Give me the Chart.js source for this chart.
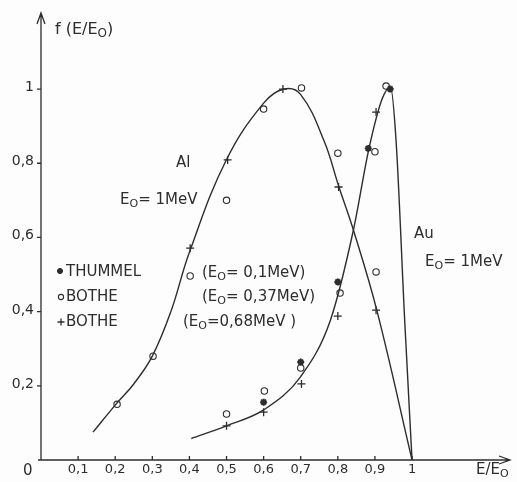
<!DOCTYPE html>
<html>
<head>
<meta charset="utf-8">
<script src="https://cdn.jsdelivr.net/npm/chart.js"></script>
<style>
  html, body { margin: 0; padding: 0; background: #fdfdfd; }
  canvas { display: block; }
</style>
</head>
<body>
<canvas id="spectrum" width="517" height="482"></canvas>
<script>
// fitted curves
const alCurveX = [0.14, 0.2, 0.25, 0.3, 0.35, 0.4, 0.5, 0.6, 0.655, 0.7, 0.763, 0.803, 0.842, 0.905, 1.0];
const alCurveY = [0.075, 0.148, 0.205, 0.28, 0.40, 0.56, 0.81, 0.962, 1.0, 0.985, 0.86, 0.736, 0.62, 0.404, 0];
const auCurveX = [0.405, 0.5, 0.6, 0.7, 0.78, 0.842, 0.884, 0.92, 0.942, 0.957, 0.98, 1.0];
const auCurveY = [0.058, 0.092, 0.135, 0.225, 0.377, 0.62, 0.84, 0.975, 1.005, 0.86, 0.38, 0];

// measured points
const thummelX = [0.6, 0.7, 0.8, 0.882, 0.941];
const thummelY = [0.156, 0.264, 0.48, 0.84, 1.0];
const botheCircleX = [0.205, 0.302, 0.402, 0.5, 0.6, 0.702, 0.8, 0.903, 0.5, 0.602, 0.7, 0.806, 0.9, 0.93];
const botheCircleY = [0.15, 0.28, 0.496, 0.70, 0.946, 1.003, 0.827, 0.507, 0.124, 0.186, 0.248, 0.45, 0.831, 1.008];
const botheCrossX = [0.402, 0.503, 0.652, 0.802, 0.903, 0.5, 0.6, 0.702, 0.8, 0.903];
const botheCrossY = [0.571, 0.809, 1.0, 0.736, 0.404, 0.092, 0.129, 0.205, 0.388, 0.938];

// axes
const xTicks = [0.1, 0.2, 0.3, 0.4, 0.5, 0.6, 0.7, 0.8, 0.9, 1];
const xTickLabels = ['0,1', '0,2', '0,3', '0,4', '0,5', '0,6', '0,7', '0,8', '0,9', '1'];
const yTicks = [0.2, 0.4, 0.6, 0.8, 1];
const yTickLabels = ['0,2', '0,4', '0,6', '0,8', '1'];

const INK = '#2d2d2d';
const FONT = '"DejaVu Sans", sans-serif';

const toPoints = (xs, ys) => xs.map((v, i) => ({ x: v, y: ys[i] }));

// text with subscripts: parts starting with '_' are lowered and smaller
function rich(ctx, x, y, parts, size) {
  let cx = x;
  parts.forEach(p => {
    const sub = p.startsWith('_');
    const t = sub ? p.slice(1) : p;
    ctx.font = (sub ? Math.round(size * 0.72) : size) + 'px ' + FONT;
    ctx.fillText(t, cx, sub ? y + 3 : y);
    cx += ctx.measureText(t).width;
  });
}

function marker(ctx, style, x, y, r) {
  ctx.beginPath();
  if (style === 'circle') {
    ctx.arc(x, y, r, 0, Math.PI * 2);
  } else {
    ctx.moveTo(x - r, y); ctx.lineTo(x + r, y);
    ctx.moveTo(x, y - r); ctx.lineTo(x, y + r);
    if (style === 'star') {
      const d = r * 0.7;
      ctx.moveTo(x - d, y - d); ctx.lineTo(x + d, y + d);
      ctx.moveTo(x - d, y + d); ctx.lineTo(x + d, y - d);
    }
  }
  ctx.stroke();
}

const handAxes = {
  id: 'handAxes',
  beforeDatasetsDraw(chart) {
    const { ctx, scales: { x, y } } = chart;
    const x0 = x.getPixelForValue(0), y0 = y.getPixelForValue(0);
    const xEnd = x.getPixelForValue(x.max), yTop = y.getPixelForValue(y.max);
    ctx.save();
    ctx.strokeStyle = INK;
    ctx.lineWidth = 1.3;
    ctx.beginPath();
    ctx.moveTo(x0, y0); ctx.lineTo(x0, yTop);
    ctx.moveTo(x0 - 3, y0); ctx.lineTo(xEnd, y0);
    ctx.moveTo(x0 - 4, yTop + 11); ctx.lineTo(x0, yTop); ctx.lineTo(x0 + 4, yTop + 11);
    ctx.moveTo(xEnd - 11, y0 - 4); ctx.lineTo(xEnd, y0); ctx.lineTo(xEnd - 11, y0 + 4);
    xTicks.forEach(v => {
      const px = x.getPixelForValue(v);
      ctx.moveTo(px, y0); ctx.lineTo(px, y0 - 4);
    });
    yTicks.forEach(v => {
      const py = y.getPixelForValue(v);
      ctx.moveTo(x0, py); ctx.lineTo(x0 - 4, py);
    });
    ctx.stroke();

    ctx.fillStyle = INK;
    ctx.textBaseline = 'alphabetic';
    ctx.font = '13px ' + FONT;
    ctx.textAlign = 'center';
    xTicks.forEach((v, i) => ctx.fillText(xTickLabels[i], x.getPixelForValue(v), y0 + 13));
    ctx.font = '14px ' + FONT;
    ctx.textAlign = 'right';
    yTicks.forEach((v, i) => ctx.fillText(yTickLabels[i], x0 - 7, y.getPixelForValue(v) + 2));
    ctx.textAlign = 'left';
    ctx.font = '15px ' + FONT;
    ctx.fillText('0', 23, y0 + 15);
    ctx.restore();
  },
  afterDraw(chart) {
    const { ctx } = chart;
    ctx.save();
    ctx.fillStyle = INK;
    ctx.strokeStyle = INK;
    ctx.textAlign = 'left';
    ctx.textBaseline = 'alphabetic';
    rich(ctx, 55, 34, ['f (E/E', '_O', ')'], 16);
    rich(ctx, 176, 167, ['Al'], 15);
    rich(ctx, 120, 204, ['E', '_O', '= 1MeV'], 15);
    rich(ctx, 414, 238, ['Au'], 15);
    rich(ctx, 425, 266, ['E', '_O', '= 1MeV'], 15);
    rich(ctx, 66, 276, ['THUMMEL'], 15);
    rich(ctx, 66, 301, ['BOTHE'], 15);
    rich(ctx, 66, 326, ['BOTHE'], 15);
    rich(ctx, 202, 277, ['(E', '_O', '= 0,1MeV)'], 15);
    rich(ctx, 202, 301, ['(E', '_O', '= 0,37MeV)'], 15);
    rich(ctx, 183, 326, ['(E', '_O', '=0,68MeV )'], 15);
    rich(ctx, 476, 474, ['E/E', '_O'], 15);
    ctx.lineWidth = 2;
    marker(ctx, 'star', 60, 271, 3);
    ctx.lineWidth = 1.1;
    marker(ctx, 'circle', 61, 297, 2.6);
    ctx.lineWidth = 1.3;
    marker(ctx, 'cross', 61, 322, 3.5);
    ctx.restore();
  }
};

const lineStyle = {
  showLine: true,
  borderColor: INK,
  borderWidth: 1.4,
  pointRadius: 0,
  fill: false
};

new Chart(document.getElementById('spectrum').getContext('2d'), {
  type: 'scatter',
  data: {
    datasets: [
      { label: 'Al', data: toPoints(alCurveX, alCurveY), ...lineStyle, tension: 0.4 },
      { label: 'Au', data: toPoints(auCurveX, auCurveY), ...lineStyle, cubicInterpolationMode: 'monotone' },
      {
        label: 'THUMMEL', data: toPoints(thummelX, thummelY),
        pointStyle: 'star', pointRadius: 3.5, pointBorderWidth: 2,
        borderColor: INK, backgroundColor: INK
      },
      {
        label: 'BOTHE 0,37', data: toPoints(botheCircleX, botheCircleY),
        pointStyle: 'circle', pointRadius: 3.2, pointBorderWidth: 1.1,
        borderColor: INK, backgroundColor: 'rgba(0,0,0,0)'
      },
      {
        label: 'BOTHE 0,68', data: toPoints(botheCrossX, botheCrossY),
        pointStyle: 'cross', pointRadius: 4, pointBorderWidth: 1.3,
        borderColor: INK, backgroundColor: INK
      }
    ]
  },
  options: {
    responsive: false,
    animation: false,
    events: [],
    layout: { padding: { left: 41, right: 7, top: 13, bottom: 22 } },
    plugins: { legend: { display: false }, tooltip: { enabled: false } },
    scales: {
      x: { type: 'linear', min: 0, max: 1.264, display: false },
      y: { type: 'linear', min: 0, max: 1.205, display: false }
    }
  },
  plugins: [handAxes]
});
</script>
</body>
</html>
